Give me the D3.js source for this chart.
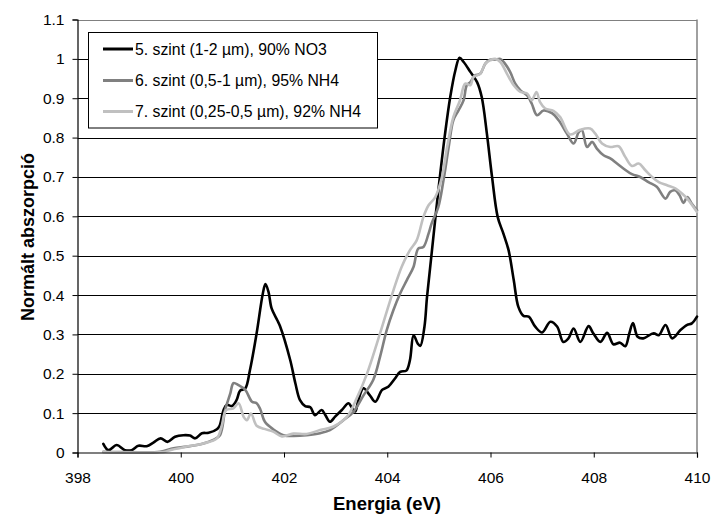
<!DOCTYPE html>
<html>
<head>
<meta charset="utf-8">
<script src="https://cdn.jsdelivr.net/npm/d3@7"></script>
<style>
  html, body { margin: 0; padding: 0; background: #fff; }
  svg { display: block; font-family: "Liberation Sans", Arial, sans-serif; }
</style>
</head>
<body>
<svg id="chart" width="712" height="515"></svg>
<script>
// ---- data ----
const seriesNames = [
  "5. szint (1-2 µm), 90% NO3",
  "6. szint (0,5-1 µm), 95% NH4",
  "7. szint (0,25-0,5 µm), 92% NH4"
];
const seriesColors = ["#000000", "#808080", "#c0c0c0"];

const energy5 = [398.50,398.60,398.76,398.92,399.05,399.18,399.34,399.47,399.61,399.74,399.89,400.05,400.18,400.28,400.41,400.54,400.70,400.75,400.83,400.89,400.99,401.08,401.15,401.25,401.34,401.47,401.59,401.64,401.70,401.76,401.87,401.92,402.12,402.22,402.31,402.41,402.51,402.60,402.73,402.80,402.89,402.99,403.12,403.25,403.31,403.38,403.44,403.54,403.66,403.77,403.90,404.02,404.15,404.25,404.37,404.44,404.51,404.59,404.64,404.72,404.77,404.86,404.99,405.12,405.22,405.32,405.40,405.48,405.61,405.74,405.83,405.93,406.03,406.14,406.25,406.35,406.45,406.54,406.64,406.74,406.87,407.00,407.16,407.29,407.41,407.51,407.61,407.74,407.90,407.99,408.13,408.26,408.38,408.51,408.61,408.69,408.76,408.85,408.96,409.16,409.26,409.39,409.52,409.68,409.81,409.90,410.00];
const abs5 = [0.022,0.006,0.019,0.006,0.006,0.017,0.016,0.025,0.036,0.027,0.040,0.044,0.043,0.036,0.049,0.050,0.059,0.067,0.108,0.121,0.118,0.133,0.157,0.163,0.209,0.303,0.404,0.428,0.408,0.366,0.336,0.322,0.235,0.176,0.133,0.118,0.115,0.095,0.108,0.095,0.078,0.091,0.108,0.125,0.115,0.104,0.133,0.163,0.146,0.129,0.159,0.167,0.188,0.205,0.208,0.235,0.298,0.277,0.271,0.319,0.395,0.506,0.666,0.810,0.903,0.971,1.003,0.992,0.967,0.941,0.903,0.810,0.700,0.598,0.556,0.514,0.438,0.370,0.347,0.345,0.319,0.305,0.332,0.320,0.281,0.290,0.315,0.281,0.321,0.303,0.281,0.304,0.275,0.279,0.270,0.303,0.329,0.294,0.290,0.303,0.298,0.324,0.290,0.311,0.324,0.328,0.345];

const energy6 = [398.50,399.00,399.60,399.86,400.12,400.44,400.63,400.76,400.86,400.96,401.02,401.12,401.25,401.38,401.47,401.54,401.63,401.79,401.99,402.18,402.44,402.70,402.89,403.15,403.35,403.54,403.73,403.86,403.99,404.12,404.25,404.38,404.51,404.60,404.70,404.80,404.86,404.99,405.09,405.19,405.28,405.38,405.48,405.54,405.61,405.70,405.80,405.90,405.99,406.09,406.19,406.28,406.38,406.48,406.58,406.71,406.80,406.90,407.03,407.19,407.32,407.48,407.61,407.71,407.77,407.87,407.97,408.06,408.19,408.32,408.45,408.58,408.74,408.90,409.06,409.22,409.39,409.48,409.58,409.66,409.74,409.81,409.90,410.00];
const abs6 = [0.002,0.001,0.002,0.011,0.015,0.023,0.032,0.044,0.108,0.150,0.176,0.171,0.159,0.129,0.125,0.110,0.078,0.059,0.044,0.042,0.044,0.049,0.057,0.082,0.104,0.145,0.185,0.243,0.311,0.362,0.404,0.438,0.472,0.518,0.522,0.556,0.582,0.624,0.692,0.776,0.844,0.869,0.895,0.933,0.941,0.958,0.962,0.988,0.998,0.998,1.000,0.988,0.967,0.937,0.920,0.907,0.886,0.857,0.869,0.862,0.844,0.810,0.785,0.814,0.819,0.776,0.789,0.772,0.755,0.747,0.734,0.721,0.707,0.700,0.687,0.675,0.645,0.662,0.666,0.654,0.634,0.649,0.632,0.615];

const energy7 = [398.50,399.00,399.70,399.79,400.12,400.44,400.70,400.79,400.88,401.02,401.12,401.22,401.28,401.36,401.47,401.62,401.79,401.96,402.18,402.44,402.70,402.96,403.22,403.41,403.61,403.80,403.96,404.12,404.28,404.44,404.57,404.70,404.80,404.93,405.06,405.16,405.28,405.41,405.51,405.61,405.67,405.80,405.90,405.99,406.09,406.19,406.32,406.45,406.58,406.71,406.80,406.89,406.96,407.06,407.22,407.35,407.54,407.74,407.93,408.03,408.16,408.32,408.48,408.61,408.74,408.87,409.00,409.13,409.26,409.42,409.58,409.71,409.81,410.00];
const abs7 = [0.001,0.000,0.002,0.006,0.015,0.023,0.036,0.066,0.108,0.112,0.125,0.090,0.082,0.099,0.068,0.060,0.053,0.041,0.048,0.047,0.057,0.066,0.091,0.138,0.201,0.277,0.345,0.412,0.472,0.514,0.539,0.598,0.628,0.649,0.700,0.776,0.852,0.895,0.937,0.933,0.954,0.962,0.988,0.996,1.000,0.992,0.962,0.933,0.916,0.912,0.895,0.916,0.890,0.874,0.868,0.852,0.808,0.820,0.823,0.810,0.785,0.776,0.778,0.751,0.728,0.734,0.717,0.700,0.687,0.679,0.671,0.658,0.645,0.611];

const xTicks = [398, 400, 402, 404, 406, 408, 410];
const yTicks = [0, 0.1, 0.2, 0.3, 0.4, 0.5, 0.6, 0.7, 0.8, 0.9, 1, 1.1];
const xTitle = "Energia (eV)";
const yTitle = "Normált abszorpció";

// ---- layout ----
const plot = { left: 77.5, right: 697, top: 19.5, bottom: 452.5 };
const svg = d3.select("#chart");
const x = d3.scaleLinear().domain([398, 410]).range([plot.left, plot.right]);
const y = d3.scaleLinear().domain([0, 1.1]).range([plot.bottom, plot.top]);

// gridlines
svg.append("g").selectAll("line")
  .data(yTicks.filter(t => t > 0 && t < 1.1))
  .join("line")
  .attr("x1", plot.left).attr("x2", plot.right)
  .attr("y1", d => Math.round(y(d)) + 0.5).attr("y2", d => Math.round(y(d)) + 0.5)
  .attr("stroke", "#000").attr("stroke-width", 1);

// plot border top & right (gray)
svg.append("line").attr("x1", plot.left).attr("x2", plot.right)
  .attr("y1", Math.round(y(1.1)) + 0.5).attr("y2", Math.round(y(1.1)) + 0.5)
  .attr("stroke", "#808080").attr("stroke-width", 1);
svg.append("line").attr("x1", plot.right).attr("x2", plot.right)
  .attr("y1", plot.top).attr("y2", plot.bottom)
  .attr("stroke", "#808080").attr("stroke-width", 1.5);

// series
const line = d3.line()
  .x(d => x(d[0])).y(d => y(d[1]))
  .curve(d3.curveCatmullRom.alpha(0.5));
const series = [
  { e: energy5, v: abs5 },
  { e: energy6, v: abs6 },
  { e: energy7, v: abs7 }
];
series.forEach((s, i) => {
  svg.append("path")
    .datum(s.e.map((e, j) => [e, s.v[j]]))
    .attr("d", line)
    .attr("fill", "none")
    .attr("stroke", seriesColors[i])
    .attr("stroke-width", 2.6)
    .attr("stroke-linejoin", "round")
    .attr("stroke-linecap", "round");
});

// axes
const xAxis = d3.axisBottom(x).tickValues(xTicks).tickSize(5).tickFormat(d3.format("d"));
const yAxis = d3.axisLeft(y).tickValues(yTicks).tickSize(5).tickFormat(d => d === 0 ? "0" : d3.format("")(+d.toFixed(1)));

const gx = svg.append("g").attr("transform", `translate(0,${plot.bottom})`).call(xAxis);
gx.select(".domain").attr("stroke", "#000").attr("stroke-width", 1.2);
gx.selectAll(".tick line").attr("stroke", "#000");
gx.selectAll(".tick text").attr("font-size", 15.5).attr("fill", "#000").attr("dy", null).attr("y", 30)
  .attr("font-family", "Liberation Sans, Arial, sans-serif");

const gy = svg.append("g").attr("transform", `translate(${plot.left},0)`).call(yAxis);
gy.select(".domain").attr("stroke", "#000").attr("stroke-width", 1.2);
gy.selectAll(".tick line").attr("stroke", "#000");
gy.selectAll(".tick text").attr("font-size", 15.5).attr("fill", "#000").attr("x", -13)
  .attr("font-family", "Liberation Sans, Arial, sans-serif");

// axis titles
svg.append("text").attr("x", 387).attr("y", 510).attr("text-anchor", "middle")
  .attr("font-size", 18.5).attr("font-weight", "bold").text(xTitle);
svg.append("text").attr("transform", "translate(34,237) rotate(-90)").attr("text-anchor", "middle")
  .attr("font-size", 18).attr("font-weight", "bold").text(yTitle);

// legend
const lg = svg.append("g");
lg.append("rect").attr("x", 88.5).attr("y", 32.5).attr("width", 289).attr("height", 95.5)
  .attr("fill", "#fff").attr("stroke", "#000").attr("stroke-width", 1);
const legendY = [49, 80.5, 111.5];
seriesNames.forEach((name, i) => {
  lg.append("line").attr("x1", 103).attr("x2", 133)
    .attr("y1", legendY[i]).attr("y2", legendY[i])
    .attr("stroke", seriesColors[i]).attr("stroke-width", 3);
  lg.append("text").attr("x", 135).attr("y", legendY[i]).attr("dy", "0.35em")
    .attr("font-size", 15.8).attr("fill", "#000").text(name);
});
</script>
</body>
</html>
